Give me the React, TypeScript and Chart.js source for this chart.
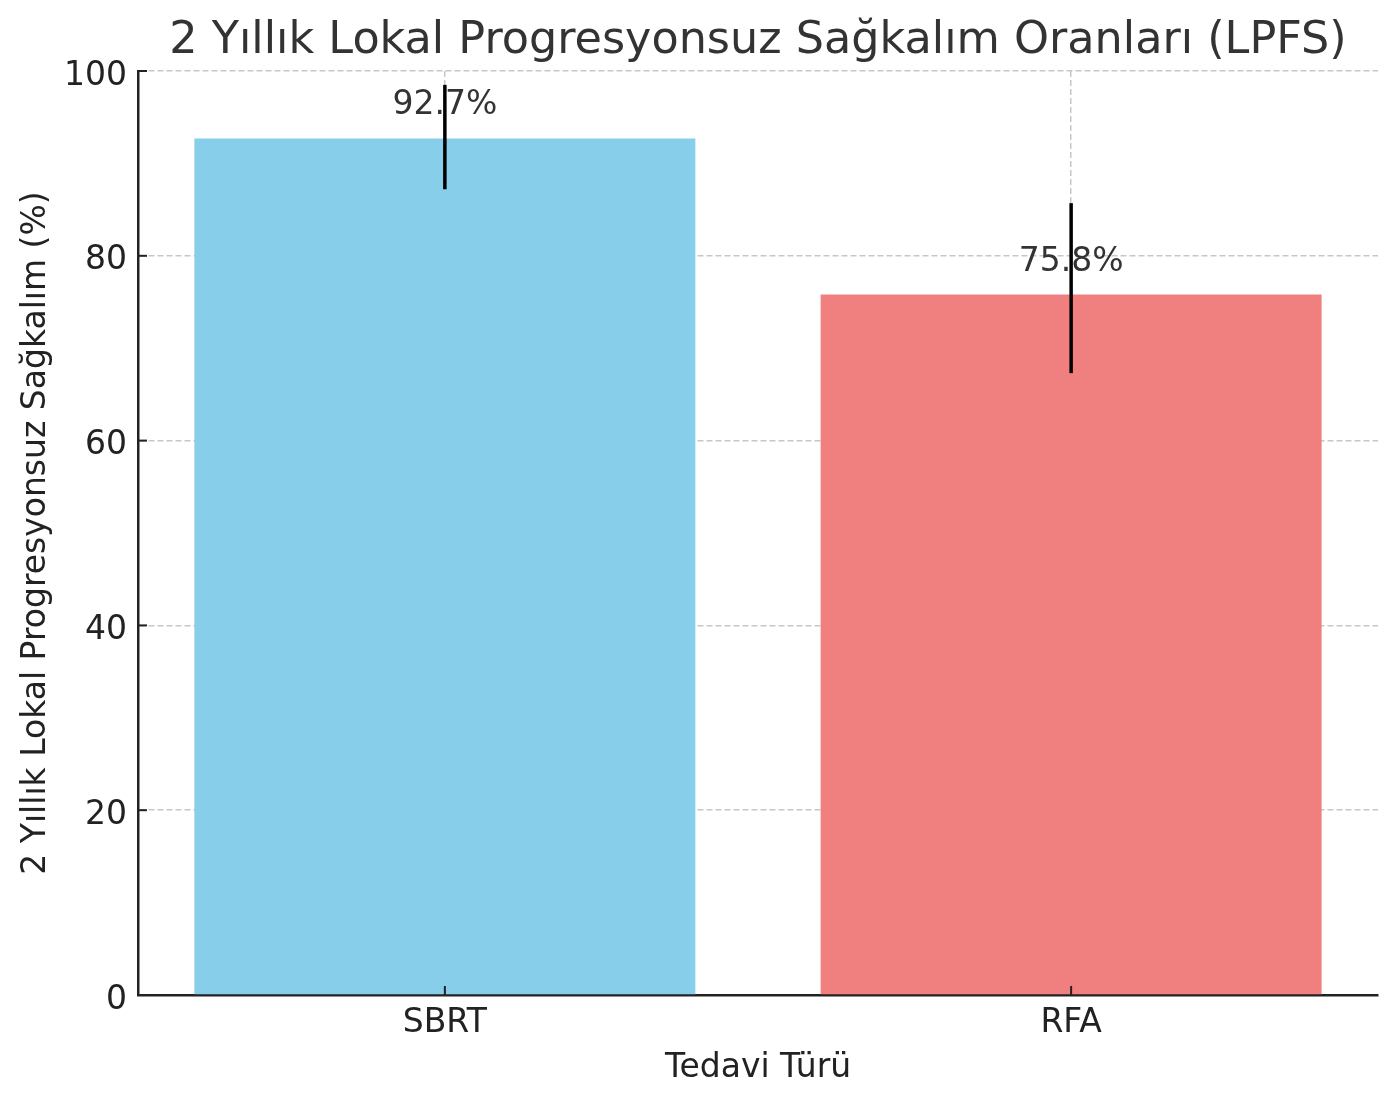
import React, { useEffect, useRef } from 'react';
import { Chart, registerables, Plugin } from 'chart.js';

Chart.register(...registerables);

// Data
const categories = ['SBRT', 'RFA'];
const positions = [0, 1];
const lpfsValues = [92.7, 75.8];
const errorLow = [87.2, 67.3];
const errorHigh = [98.5, 85.7];
const barColors = ['#87CEEB', '#F08080'];

const FONT = '"DejaVu Sans", "Noto Sans", sans-serif';

// inward ticks, y tick labels, error bars and value labels
const overlayPlugin: Plugin<'bar'> = {
    id: 'overlay',
    afterDraw(chart) {
        const { ctx, chartArea, scales } = chart;
        const x = scales.x;
        const y = scales.y;
        const line = (x1: number, y1: number, x2: number, y2: number) => {
            ctx.beginPath();
            ctx.moveTo(x1, y1);
            ctx.lineTo(x2, y2);
            ctx.stroke();
        };
        ctx.save();
        ctx.strokeStyle = '#222';
        ctx.lineWidth = 2;
        y.ticks.forEach(t => {
            const py = y.getPixelForValue(t.value);
            line(chartArea.left, py, chartArea.left + 9, py);
        });
        x.ticks.forEach(t => {
            const px = x.getPixelForValue(t.value);
            line(px, chartArea.bottom, px, chartArea.bottom - 9);
        });

        // y tick labels (matplotlib-like vertical centring)
        ctx.fillStyle = '#222';
        ctx.font = `33px ${FONT}`;
        ctx.textAlign = 'right';
        ctx.textBaseline = 'alphabetic';
        y.ticks.forEach(t => {
            const py = y.getPixelForValue(t.value);
            ctx.fillText(String(t.value), chartArea.left - 11, py + 13.5);
        });

        ctx.strokeStyle = '#000';
        ctx.lineWidth = 3.5;
        ctx.lineCap = 'butt';
        positions.forEach((p, i) => {
            const px = x.getPixelForValue(p);
            line(px, y.getPixelForValue(errorLow[i]), px, y.getPixelForValue(errorHigh[i]));
        });

        ctx.fillStyle = '#333';
        ctx.textAlign = 'center';
        positions.forEach((p, i) => {
            const px = x.getPixelForValue(p);
            ctx.fillText(`${lpfsValues[i]}%`, px, y.getPixelForValue(lpfsValues[i]) - 24);
        });
        ctx.restore();
    },
};

const LpfsBarChart: React.FC = () => {
    const ref = useRef<HTMLCanvasElement>(null);
    const chartRef = useRef<Chart | null>(null);

    useEffect(() => {
        if (!ref.current) return;
        document.body.style.margin = '0';

        if (chartRef.current) {
            chartRef.current.destroy();
        }

        chartRef.current = new Chart(ref.current, {
            type: 'bar',
            data: {
                datasets: [
                    {
                        label: '2 Yıllık LPFS',
                        data: positions.map((p, i) => ({ x: p, y: lpfsValues[i] })),
                        backgroundColor: barColors,
                        borderWidth: 0,
                        categoryPercentage: 0.8,
                        barPercentage: 1,
                    },
                ],
            },
            plugins: [overlayPlugin],
            options: {
                responsive: false,
                animation: false,
                devicePixelRatio: 1,
                layout: { padding: { left: 0, right: 20, top: 0, bottom: 0 } },
                plugins: {
                    legend: { display: false },
                    tooltip: { enabled: false },
                    title: {
                        display: true,
                        fullSize: false,
                        text: '2 Yıllık Lokal Progresyonsuz Sağkalım Oranları (LPFS)',
                        color: '#333',
                        font: { family: FONT, size: 44.5, weight: 'normal', lineHeight: 1.2 },
                        padding: { top: 15, bottom: 2.6 },
                    },
                },
                scales: {
                    x: {
                        type: 'linear',
                        min: -0.49,
                        max: 1.49,
                        offset: false,
                        z: 1,
                        afterFit: (scale) => { scale.height = 107; },
                        afterBuildTicks: (scale) => {
                            scale.ticks = positions.map(v => ({ value: v }));
                        },
                        ticks: {
                            callback: (_value, index) => categories[index],
                            color: '#222',
                            font: { family: FONT, size: 33 },
                            padding: 9,
                            maxRotation: 0,
                        },
                        grid: {
                            offset: false,
                            drawTicks: false,
                            color: 'rgba(185,185,185,0.8)',
                            lineWidth: 1.5,
                        },
                        border: { display: true, color: '#222', width: 2.5, dash: [6, 3] },
                        title: {
                            display: true,
                            text: 'Tedavi Türü',
                            color: '#222',
                            font: { family: FONT, size: 33 },
                            padding: { top: 0, bottom: 14 },
                        },
                    },
                    y: {
                        min: 0,
                        max: 100,
                        z: 1,
                        afterFit: (scale) => { scale.width = 138; },
                        ticks: {
                            stepSize: 20,
                            display: false,
                        },
                        grid: {
                            drawTicks: false,
                            color: 'rgba(185,185,185,0.8)',
                            lineWidth: 1.5,
                        },
                        border: { display: true, color: '#222', width: 2.5, dash: [6, 3] },
                        title: {
                            display: true,
                            text: '2 Yıllık Lokal Progresyonsuz Sağkalım (%)',
                            color: '#222',
                            font: { family: FONT, size: 33 },
                            padding: { top: 17, bottom: 0 },
                        },
                    },
                },
            },
        });

        return () => {
            if (chartRef.current) {
                chartRef.current.destroy();
                chartRef.current = null;
            }
        };
    }, []);

    return <canvas ref={ref} width={1398} height={1102}></canvas>;
};

export default function App() {
    return <LpfsBarChart />;
}
